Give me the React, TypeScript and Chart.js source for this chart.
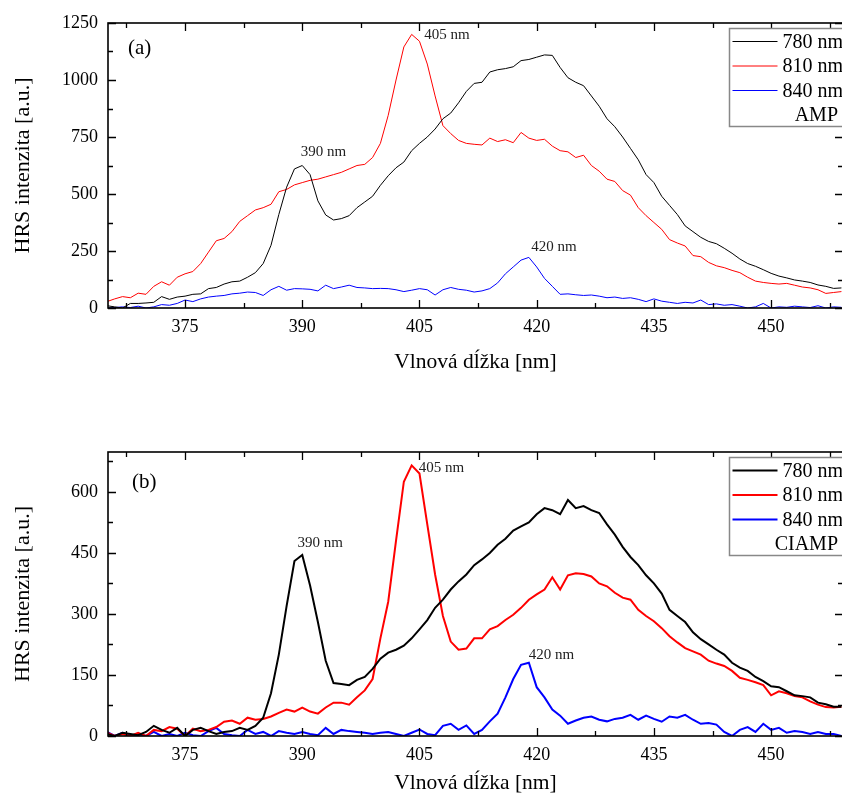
import React, { useEffect, useRef } from "react";
import { Chart, registerables } from "chart.js";

Chart.register(...registerables);
Chart.defaults.font.family = '"Liberation Serif", "Times New Roman", serif';
Chart.defaults.color = "#000";

// wavelength axis [nm]
const wavelengths = [
  365, 366, 367, 368, 369, 370, 371, 372, 373, 374,
  375, 376, 377, 378, 379, 380, 381, 382, 383, 384,
  385, 386, 387, 388, 389, 390, 391, 392, 393, 394,
  395, 396, 397, 398, 399, 400, 401, 402, 403, 404,
  405, 406, 407, 408, 409, 410, 411, 412, 413, 414,
  415, 416, 417, 418, 419, 420, 421, 422, 423, 424,
  425, 426, 427, 428, 429, 430, 431, 432, 433, 434,
  435, 436, 437, 438, 439, 440, 441, 442, 443, 444,
  445, 446, 447, 448, 449, 450, 451, 452, 453, 454,
  455, 456, 457, 458, 459,
];

const seriesLabels = ["780 nm", "810 nm", "840 nm"];
const seriesColors = ["#000000", "#ff0000", "#0000ff"];

// (a) AMP
const ampBlack = [
  10, 5, 0, 20, 20, 22, 25, 50, 38, 48,
  52, 60, 62, 85, 90, 105, 115, 118, 135, 155,
  195, 275, 410, 530, 610, 625, 585, 470, 408, 386,
  392, 405, 440, 465, 490, 538, 580, 615, 640, 690,
  722, 750, 785, 830, 855, 900, 950, 985, 990, 1035,
  1045, 1050, 1058, 1085, 1090, 1100, 1110, 1108, 1055, 1010,
  990, 975, 930, 885, 830, 795, 750, 700, 650, 585,
  550, 490, 450, 410, 360, 335, 310, 292, 282, 262,
  240, 215, 195, 183, 168, 152, 140, 132, 123, 118,
  112, 101, 95, 86, 88,
];
const ampRed = [
  28, 40, 50, 45, 65, 60, 95, 115, 100, 135,
  150, 160, 195, 245, 295, 305, 335, 380, 405, 430,
  440, 455, 510, 520, 540, 550, 560, 565, 575, 585,
  595, 610, 625, 630, 660, 722, 845, 1000, 1145, 1200,
  1170, 1070, 930, 800, 765, 735, 722, 718, 715, 745,
  730, 738, 725, 770, 745, 735, 740, 710, 690, 685,
  660, 670, 625, 600, 565, 555, 515, 495, 440, 405,
  375, 345, 300, 285, 272, 230, 225, 200, 185, 177,
  165, 155, 135, 118, 112, 108, 105, 108, 100, 92,
  88, 80, 64, 68, 72,
];
const ampBlue = [
  0, 2, 5, 2, 8, 0, 5, 15, 12, 20,
  35, 28, 40, 48, 52, 55, 62, 65, 70, 68,
  55, 80, 95, 78, 85, 84, 82, 75, 100, 85,
  92, 100, 90, 88, 85, 86, 85, 80, 72, 78,
  85, 80, 57, 80, 90, 82, 78, 70, 75, 85,
  110, 150, 180, 210, 222, 180, 130, 95, 60, 62,
  58, 55, 57, 52, 45, 48, 42, 45, 38, 28,
  40, 30, 25, 20, 25, 22, 35, 15, 18, 12,
  15, 8, 0, 5, 20, 0, 5, 3, 8, 5,
  2, 10, 0, 5, 3,
];

// (b) CIAMP
const ciampBlack = [
  5, 0, 8, 5, 2, 10, 25, 15, 8, 20,
  0, 15, 20, 12, 5, 10, 12, 20, 15, 25,
  45, 105, 200, 320, 430, 445, 370, 280, 185, 130,
  128, 125, 138, 145, 165, 190, 205, 212, 222, 240,
  262, 285, 315, 335, 360, 380, 397, 420, 434, 450,
  470, 485, 505, 515, 525, 545, 560, 555, 545, 580,
  560, 565, 555, 548, 520, 495, 465, 440, 420, 395,
  375, 350, 310, 295, 280, 255, 238, 225, 212, 200,
  180, 168, 160, 145, 135, 122, 120, 110, 100, 98,
  95, 82, 78, 72, 72,
];
const ciampRed = [
  8, 0, 5, 0, 8, 0, 15, 12, 22, 18,
  0, 18, 12, 15, 22, 35, 38, 30, 45, 40,
  42, 48, 57, 65, 60, 70, 60, 55, 70, 82,
  82, 77, 95, 112, 140, 240, 330, 480, 625, 665,
  645, 520, 397, 295, 232, 212, 215, 240, 240, 262,
  270, 285, 298, 315, 335, 348, 360, 390, 360, 395,
  400, 398, 392, 375, 368, 352, 340, 335, 310, 295,
  282, 265, 245, 230, 216, 208, 200, 185, 178, 172,
  160, 143, 138, 132, 125, 100, 110, 105, 98, 95,
  85, 77, 71, 70, 72,
];
const ciampBlue = [
  10, 0, 8, 0, 5, 0, 10, 0, 5, 0,
  8, 2, 0, 12, 20, 5, 2, 0, 15, 5,
  10, 0, 12, 8, 5, 10, 5, 2, 20, 5,
  15, 12, 10, 8, 5, 8, 10, 5, 0, 8,
  16, 5, 2, 25, 30, 15, 26, 5, 15, 36,
  55, 95, 140, 175, 180, 120, 95, 65, 50, 30,
  38, 45, 48, 40, 36, 42, 45, 52, 40, 50,
  42, 35, 48, 45, 52, 40, 30, 32, 28, 10,
  0, 15, 22, 10, 30, 15, 20, 8, 12, 10,
  5, 10, 5, 5, 0,
];

// axes
const xMin = 365.14;
const xMax = 459.2;
const xTicks = [375, 390, 405, 420, 435, 450];
const ampYTicks = [0, 250, 500, 750, 1000, 1250];
const ciampYTicks = [0, 150, 300, 450, 600];

// peak annotations: [text, wavelength, intensity]
const ampNotes: [string, number, number][] = [
  ["390 nm", 389.8, 684],
  ["405 nm", 405.6, 1197],
  ["420 nm", 419.3, 268],
];
const ciampNotes: [string, number, number][] = [
  ["390 nm", 389.4, 475],
  ["405 nm", 404.9, 659],
  ["420 nm", 419.0, 199],
];

const panels = [
  {
    tag: "(a)",
    sample: "AMP",
    series: [ampBlack, ampRed, ampBlue],
    yMax: 1250,
    yTicks: ampYTicks,
    yStep: 250,
    notes: ampNotes,
    lineWidth: 1,
    padTop: 23,
    xAxisH: 92,
    xTitlePad: 25,
    tagDx: 20,
    tagDy: 25,
  },
  {
    tag: "(b)",
    sample: "CIAMP",
    series: [ciampBlack, ciampRed, ciampBlue],
    yMax: 698,
    yTicks: ciampYTicks,
    yStep: 150,
    notes: ciampNotes,
    lineWidth: 2,
    padTop: 52,
    xAxisH: 64,
    xTitlePad: 4,
    tagDx: 24,
    tagDy: 30,
  },
];

type PanelCfg = (typeof panels)[number];

function makeDecor(cfg: PanelCfg) {
  return {
    id: "decor" + cfg.tag,
    afterDatasetsDraw(chart: any) {
      const { ctx, chartArea: a } = chart;
      const xs = chart.scales.x;
      const ys = chart.scales.y;
      ctx.save();
      // frame
      ctx.strokeStyle = "#000";
      ctx.lineWidth = 1.6;
      ctx.strokeRect(a.left, a.top, a.right - a.left, a.bottom - a.top);
      ctx.lineWidth = 1.3;
      const xStep = xTicks[1] - xTicks[0];
      const xMinor: number[] = [];
      xTicks.forEach((v) => {
        [v - xStep / 2, v + xStep / 2].forEach((m) => {
          if (m > xMin && m < xMax && !xMinor.includes(m)) xMinor.push(m);
        });
      });
      const yMinor: number[] = [];
      cfg.yTicks.forEach((v) => {
        [v - cfg.yStep / 2, v + cfg.yStep / 2].forEach((m) => {
          if (m > 0 && m < cfg.yMax && !yMinor.includes(m)) yMinor.push(m);
        });
      });
      const vt = (v: number, len: number) => {
        const p = Math.round(xs.getPixelForValue(v)) + 0.5;
        ctx.beginPath();
        ctx.moveTo(p, a.bottom);
        ctx.lineTo(p, a.bottom - len);
        ctx.moveTo(p, a.top);
        ctx.lineTo(p, a.top + len);
        ctx.stroke();
      };
      const ht = (v: number, len: number) => {
        const p = Math.round(ys.getPixelForValue(v)) + 0.5;
        ctx.beginPath();
        ctx.moveTo(a.left, p);
        ctx.lineTo(a.left + len, p);
        ctx.moveTo(a.right, p);
        ctx.lineTo(a.right - len, p);
        ctx.stroke();
      };
      xTicks.forEach((v) => vt(v, 8));
      xMinor.forEach((v) => vt(v, 5));
      cfg.yTicks.forEach((v) => ht(v, 8));
      yMinor.forEach((v) => ht(v, 5));

      // panel tag
      ctx.fillStyle = "#000";
      ctx.textBaseline = "middle";
      ctx.textAlign = "left";
      ctx.font = '21px "Liberation Serif", serif';
      ctx.fillText(cfg.tag, a.left + cfg.tagDx, a.top + cfg.tagDy);

      // peak notes
      ctx.font = '15px "Liberation Serif", serif';
      ctx.fillStyle = "#222";
      cfg.notes.forEach(([t, w, v]) => {
        ctx.fillText(t, xs.getPixelForValue(w), ys.getPixelForValue(v));
      });

      // legend box
      const bx = 729.5;
      const by = a.top + 5.5;
      const bh = 98;
      ctx.fillStyle = "#fff";
      ctx.fillRect(bx, by, 130, bh);
      ctx.strokeStyle = "#888";
      ctx.lineWidth = 1.5;
      ctx.strokeRect(bx, by, 130, bh);
      ctx.font = '20px "Liberation Serif", serif';
      chart.data.datasets.forEach((ds: any, i: number) => {
        const ry = by + 13 + i * 24.5;
        ctx.strokeStyle = ds.borderColor;
        ctx.lineWidth = ds.borderWidth;
        ctx.beginPath();
        ctx.moveTo(bx + 3, ry);
        ctx.lineTo(bx + 48, ry);
        ctx.stroke();
        ctx.fillStyle = "#000";
        ctx.textAlign = "left";
        ctx.fillText(ds.label, bx + 53, ry + 1);
      });
      ctx.textAlign = "right";
      ctx.fillText(cfg.sample, 838, by + 13 + 3 * 24.5 + 1);
      ctx.restore();
    },
  };
}

function Panel({ cfg }: { cfg: PanelCfg }) {
  const ref = useRef<HTMLCanvasElement>(null);
  useEffect(() => {
    if (!ref.current) return;
    const chart = new Chart(ref.current, {
      type: "line",
      data: {
        datasets: cfg.series.map((vals, i) => ({
          label: seriesLabels[i],
          data: wavelengths.map((w, j) => ({ x: w, y: vals[j] })),
          borderColor: seriesColors[i],
          backgroundColor: seriesColors[i],
          borderWidth: cfg.lineWidth,
          pointRadius: 0,
          tension: 0,
          fill: false,
        })),
      },
      options: {
        responsive: false,
        animation: false,
        devicePixelRatio: 1,
        layout: { padding: { top: cfg.padTop, right: 3, left: 0, bottom: 0 } },
        plugins: { legend: { display: false }, tooltip: { enabled: false } },
        scales: {
          x: {
            type: "linear",
            min: xMin,
            max: xMax,
            grid: { display: false, drawTicks: false },
            border: { display: false },
            afterBuildTicks: (s: any) => {
              s.ticks = xTicks.map((v) => ({ value: v }));
            },
            afterFit: (s: any) => {
              s.height = cfg.xAxisH;
              s.paddingLeft = 0;
              s.paddingRight = 0;
            },
            ticks: {
              autoSkip: false,
              maxRotation: 0,
              padding: 8,
              color: "#000",
              font: { size: 18 },
              callback: (v: any) => String(v),
            },
            title: {
              display: true,
              text: "Vlnová dĺžka [nm]",
              color: "#000",
              font: { size: 21.5 },
              padding: { top: 0, bottom: cfg.xTitlePad },
            },
          },
          y: {
            type: "linear",
            min: 0,
            max: cfg.yMax,
            grid: { display: false, drawTicks: false },
            border: { display: false },
            afterBuildTicks: (s: any) => {
              s.ticks = cfg.yTicks.map((v) => ({ value: v }));
            },
            afterFit: (s: any) => {
              s.width = 108;
              s.paddingTop = 0;
              s.paddingBottom = 0;
            },
            ticks: {
              autoSkip: false,
              padding: 10,
              color: "#000",
              font: { size: 18 },
              callback: (v: any) => String(v),
            },
            title: {
              display: true,
              text: "HRS intenzita [a.u.]",
              color: "#000",
              font: { size: 22 },
              padding: { top: 10, bottom: 0 },
            },
          },
        },
      },
      plugins: [makeDecor(cfg)],
    } as any);
    return () => chart.destroy();
  }, [cfg]);
  return (
    <canvas
      ref={ref}
      width={846}
      height={400}
      style={{ display: "block", width: 846, height: 400 }}
    />
  );
}

export default function App() {
  return (
    <div
      style={{
        position: "absolute",
        left: 0,
        top: 0,
        width: 842,
        height: 800,
        overflow: "hidden",
        background: "#fff",
      }}
    >
      <Panel cfg={panels[0]} />
      <Panel cfg={panels[1]} />
    </div>
  );
}
